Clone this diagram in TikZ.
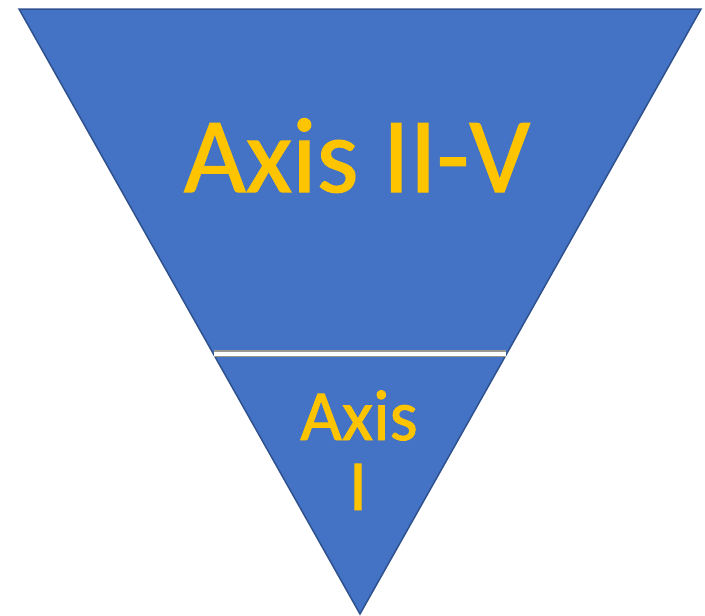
\documentclass[tikz,border=0pt]{standalone}
\usepackage{fontspec}
\setmainfont{Carlito}
\newfontfamily\goldfont{Carlito}[FakeBold=1.2]
\definecolor{triblue}{HTML}{4472C4}
\definecolor{triedge}{HTML}{2F528F}
\definecolor{gold}{HTML}{FFC400}
\definecolor{sepgray}{HTML}{9A978E}
\begin{document}
\begin{tikzpicture}[x=1pt,y=-1pt,
  goldtext/.style={text=gold, inner sep=0pt, anchor=base},
  separator/.style={line width=7pt, draw=sepgray}]
\useasboundingbox (0,0) rectangle (705,616);
\coordinate (tl) at (19,9);
\coordinate (tr) at (701,9);
\coordinate (ap) at (360,614);
\draw[fill=triblue, draw=triedge, line width=1.5pt, line join=miter] (tl) -- (tr) -- (ap) -- cycle;
\coordinate (sl) at (214,353);
\coordinate (sr) at (506,353);
\draw[separator] (sl) -- (sr);
\draw[line width=3.5pt, draw=white] ([yshift=-1.2pt]sl) -- ([yshift=-1.2pt]sr);
\node[goldtext, font=\goldfont\fontsize{107}{107}\selectfont] (top) at (357,192) {Axis II-V};
\node[goldtext, font=\goldfont\fontsize{72}{72}\selectfont] (ax) at (359,440) {Axis};
\node[goldtext, font=\goldfont\fontsize{72}{72}\selectfont] (one) at (358,510) {I};
\end{tikzpicture}
\end{document}
